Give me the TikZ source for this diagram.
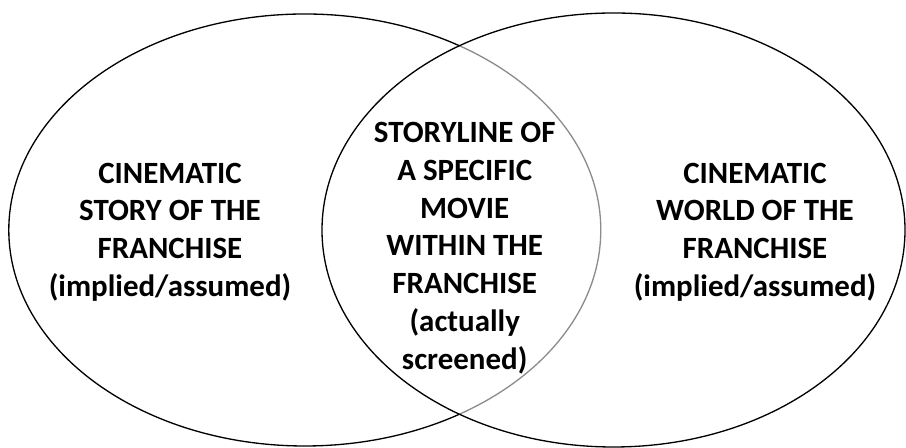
\documentclass[tikz,border=0pt]{standalone}
\usepackage{fontspec}
\setmainfont{Carlito}
\usepackage{xcolor}

\tikzset{
  vennline/.style={line width=0.75pt, black},
  venntext/.style={align=center, font=\bfseries\fontsize{17.6}{21.5}\selectfont, inner sep=0pt}
}

\begin{document}
\begin{tikzpicture}[x=0.02cm, y=0.02cm]
\useasboundingbox (0,0) rectangle (906,448);

% Left set
\draw[vennline] (304.8,218) ellipse (296 and 216);

% Right set (softens the left arc inside it)
\fill[white, fill opacity=0.55] (613.5,218) ellipse (291.5 and 217);
\draw[vennline] (613.5,218) ellipse (291.5 and 217);

% Labels
\node[venntext] (story) at (170,216) {CINEMATIC\\STORY OF THE\\FRANCHISE\\(implied/assumed)};
\node[venntext] (movie) at (464.7,200) {STORYLINE OF\\A SPECIFIC\\MOVIE\\WITHIN THE\\FRANCHISE\\(actually\\screened)};
\node[venntext] (world) at (755,216) {CINEMATIC\\WORLD OF THE\\FRANCHISE\\(implied/assumed)};
\end{tikzpicture}
\end{document}
